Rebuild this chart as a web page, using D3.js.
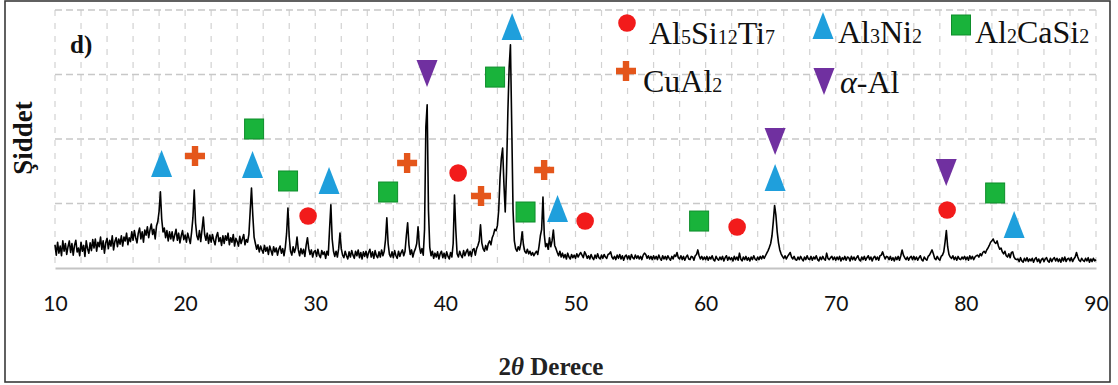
<!DOCTYPE html>
<html><head><meta charset="utf-8">
<script src="https://cdn.jsdelivr.net/npm/d3@7"></script>
<style>body{margin:0;background:#fff}svg{display:block}</style>
</head><body>
<svg id="chart" width="1118" height="385"></svg>
<script>
// ---- scan (2θ from 10° to 90°, 0.1° step) ----
const scanStart = 10;
const scanStep = 0.1;
const intensity = [
 360,200,400,230,340,190,420,260,380,210, // 10
 330,420,240,380,200,350,430,250,310,190, // 11
 400,260,350,180,420,300,230,390,270,440, // 12
 310,450,260,400,330,480,290,420,230,390, // 13
 460,300,430,340,500,280,410,470,330,450, // 14
 370,500,340,480,420,540,360,470,410,560, // 15
 430,580,470,390,540,620,450,560,400,590, // 16
 510,640,470,590,680,520,600,450,650,720, // 17
 880,1180,760,560,620,470,580,420,560,450, // 18
 560,420,510,600,430,540,390,500,580,440, // 19
 510,400,540,460,380,560,780,1210,700,500, // 20
 440,580,410,600,790,520,430,540,380,510, // 21
 400,520,430,360,490,550,410,470,350,500, // 22
 380,500,430,540,360,470,400,520,340,460, // 23
 410,340,490,380,450,520,360,440,400,520, // 24
 880,1240,820,480,380,290,360,250,340,280, // 25
 230,350,260,320,210,340,270,200,330,250, // 26
 310,200,290,340,230,300,190,320,540,930, // 27
 480,260,200,330,240,310,480,280,190,300, // 28
 220,290,180,350,470,300,210,280,170,250, // 29
 270,180,290,200,160,270,210,250,150,260, // 30
 200,600,980,450,260,180,260,170,300,540, // 31
 300,200,160,260,190,140,250,170,270,200, // 32
 150,260,190,280,160,240,140,250,180,260, // 33
 160,240,290,170,250,150,270,190,160,250, // 34
 170,280,190,260,440,780,380,210,170,250, // 35
 160,270,190,150,260,180,240,280,190,260, // 36
 500,700,360,210,280,170,250,300,380,640, // 37
 340,230,300,200,600,2190,2530,900,320,190, // 38
 260,150,230,170,250,140,220,260,160,230, // 39
 150,250,180,140,240,170,380,1130,600,220, // 40
 170,260,200,160,270,190,250,290,190,260, // 41
 180,280,300,200,300,350,420,670,390,300, // 42
 260,350,280,380,420,360,470,520,600,580, // 43
 660,900,1400,1700,1860,1300,870,1500,2400,3100, // 44
 3460,2200,900,420,300,260,330,280,380,560, // 45
 360,260,230,290,220,260,200,240,190,230, // 46
 260,210,340,500,600,1100,520,330,380,290, // 47
 470,330,420,590,350,300,240,190,260,170, // 48
 230,160,210,140,230,170,140,210,160,200, // 49
 150,220,170,210,240,200,160,250,210,150, // 50
 190,140,210,160,130,200,150,220,160,140, // 51
 200,150,210,170,150,210,220,250,170,140, // 52
 180,130,200,150,210,140,190,120,180,200, // 53
 140,190,130,210,160,140,200,150,190,140, // 54
 180,130,200,230,210,150,190,140,180,130, // 55
 190,140,180,130,200,150,120,190,140,180, // 56
 130,190,150,120,180,140,200,180,240,160, // 57
 140,190,130,180,120,170,200,140,130,180, // 58
 170,120,190,210,280,190,140,180,130,170, // 59
 130,180,120,170,140,190,130,110,180,140, // 60
 120,170,130,180,110,160,190,120,170,130, // 61
 160,110,180,130,170,120,230,140,110,170, // 62
 130,180,120,160,110,170,130,190,140,120, // 63
 170,130,180,140,190,150,190,230,270,320, // 64
 380,500,720,970,820,560,390,280,220,180, // 65
 150,190,140,180,210,240,170,140,180,130, // 66
 120,170,130,180,140,110,170,130,190,140, // 67
 130,180,120,170,140,190,130,110,170,130, // 68
 180,140,120,230,150,130,160,180,130,170, // 69
 120,170,130,180,110,160,130,180,120,170, // 70
 160,110,180,130,170,120,160,190,130,110, // 71
 170,130,180,120,160,190,130,170,110,160, // 72
 180,130,170,120,190,200,250,190,140,180, // 73
 170,130,180,120,160,110,170,130,180,120, // 74
 190,280,200,160,130,170,120,160,180,130, // 75
 180,130,170,120,160,190,130,110,170,140, // 76
 120,180,200,240,280,220,150,130,180,140, // 77
 120,180,200,250,400,580,330,210,170,150, // 78
 190,130,170,120,180,140,130,170,140,180, // 79
 130,170,120,190,140,180,130,170,190,200, // 80
 170,220,190,240,260,230,280,310,350,400, // 81
 420,450,400,380,420,340,290,310,250,220, // 82
 260,190,170,220,160,240,250,170,140,130, // 83
 140,100,160,110,90,150,110,160,100,140,  // 84
 110,150,90,140,160,100,140,80,130,150,   // 85
 100,140,160,110,90,150,100,140,160,110,  // 86
 150,100,140,90,160,110,170,100,140,150,  // 87
 110,160,100,140,170,240,170,120,100,150, // 88
 120,100,150,110,160,90,140,100,150,110,  // 89
 130                                       // 90
];

// ---- axis ----
const xTickValues = [10, 20, 30, 40, 50, 60, 70, 80, 90];
const yGridValues = [1000, 2000, 3000, 4000];

// ---- phase marker positions [2θ, intensity level of marker] ----
const al5si12ti7Marks = [[29.45, 806], [40.98, 1473], [50.74, 728], [62.42, 636], [78.56, 899]];
const cual2Marks      = [[20.76, 1736], [37.06, 1628], [42.74, 1116], [47.59, 1519]];
const al3ni2Marks     = [[18.19, 1612], [25.18, 1597], [31.06, 1349], [45.13, 3736], [48.62, 915], [65.34, 1395], [83.71, 667]];
const al2casi2Marks   = [[25.30, 2155], [27.91, 1349], [35.60, 1178], [43.82, 2960], [46.16, 868], [59.50, 728], [82.25, 1163]];
const alphaAlMarks    = [[38.59, 3023], [65.34, 1969], [78.49, 1488]];

// legend labels: alternating normal / subscript segments
const legendLabels = {
  al5si12ti7: ["Al", "5", "Si", "12", "Ti", "7"],
  al3ni2: ["Al", "3", "Ni", "2"],
  al2casi2: ["Al", "2", "CaSi", "2"],
  cual2: ["CuAl", "2"],
};

const C = { red: "#f21b1b", orange: "#e4561b", blue: "#1f9fdc", green: "#19b33b", greenEdge: "#0e8d2b", purple: "#7030a0" };

const svg = d3.select("#chart");
const x = d3.scaleLinear().domain([10, 90]).range([55, 1096]);
const y = d3.scaleLinear().domain([0, 4000]).range([268, 10]);

// outer frame
svg.append("rect").attr("x", 5).attr("y", 1).attr("width", 1105).attr("height", 381)
  .attr("fill", "#fff").attr("stroke", "#3a3a3a").attr("stroke-width", 1.6);

// grid
const minorX = d3.range(10, 91, 2);
svg.append("g").selectAll("line").data(minorX).join("line")
  .attr("x1", d => x(d)).attr("x2", d => x(d)).attr("y1", y(4000)).attr("y2", y(0))
  .attr("stroke", "#d2d2d2").attr("stroke-width", 1.2).attr("stroke-dasharray", "6,7");
svg.append("g").selectAll("line").data(yGridValues).join("line")
  .attr("x1", x(10)).attr("x2", x(90)).attr("y1", d => y(d)).attr("y2", d => y(d))
  .attr("stroke", "#c8c8c8").attr("stroke-width", 1.6).attr("stroke-dasharray", "7,4");

// x axis
const xAxis = svg.append("g").attr("transform", `translate(0,${y(0)})`)
  .call(d3.axisBottom(x).tickValues(xTickValues).tickSize(0).tickPadding(28).tickFormat(d3.format("d")));
xAxis.select(".domain").attr("stroke", "#c4c4c4").attr("stroke-width", 2);
xAxis.selectAll("text").attr("font-family", "Lato, 'Open Sans', sans-serif").attr("font-size", 21).attr("fill", "#111");

// scan line
const pts = intensity.map((v, i) => [scanStart + i * scanStep, v]);
svg.append("path").datum(pts)
  .attr("fill", "none").attr("stroke", "#000").attr("stroke-width", 1.6).attr("stroke-linejoin", "round")
  .attr("d", d3.line().x(d => x(d[0])).y(d => y(d[1])));

// marker painters
function triUp(g, cx, cy) {
  g.append("path").attr("d", `M${cx},${cy - 14}L${cx + 10.5},${cy + 13}L${cx - 10.5},${cy + 13}Z`).attr("fill", C.blue);
}
function triDown(g, cx, cy) {
  g.append("path").attr("d", `M${cx - 10.5},${cy - 13}L${cx + 10.5},${cy - 13}L${cx},${cy + 14}Z`).attr("fill", C.purple);
}
function square(g, cx, cy) {
  g.append("rect").attr("x", cx - 9.5).attr("y", cy - 10).attr("width", 19).attr("height", 20)
    .attr("fill", C.green).attr("stroke", C.greenEdge).attr("stroke-width", 1);
}
function circle(g, cx, cy) {
  g.append("circle").attr("cx", cx).attr("cy", cy).attr("r", 8.8).attr("fill", C.red);
}
function plus(g, cx, cy) {
  const a = 10, t = 3.2;
  g.append("path").attr("d",
    `M${cx - t},${cy - a}H${cx + t}V${cy - t}H${cx + a}V${cy + t}H${cx + t}V${cy + a}H${cx - t}V${cy + t}H${cx - a}V${cy - t}H${cx - t}Z`)
    .attr("fill", C.orange);
}

const mk = svg.append("g");
al5si12ti7Marks.forEach(d => circle(mk, x(d[0]), y(d[1])));
cual2Marks.forEach(d => plus(mk, x(d[0]), y(d[1])));
al3ni2Marks.forEach(d => triUp(mk, x(d[0]), y(d[1])));
al2casi2Marks.forEach(d => square(mk, x(d[0]), y(d[1])));
alphaAlMarks.forEach(d => triDown(mk, x(d[0]), y(d[1])));

// legend
const lg = svg.append("g").attr("font-family", "'Liberation Serif', 'Times New Roman', serif").attr("fill", "#111");
function subText(px, py, segs) {
  const t = lg.append("text").attr("x", px).attr("y", py).attr("font-size", 32);
  segs.forEach((s, i) => {
    t.append("tspan").text(s).attr("font-size", i % 2 ? 20 : 32);
  });
}
circle(lg, 627, 23); subText(649, 44, legendLabels.al5si12ti7);
triUp(lg, 823, 26); subText(838, 43, legendLabels.al3ni2);
square(lg, 961, 25); subText(975, 43, legendLabels.al2casi2);
plus(lg, 626, 71); subText(643, 92, legendLabels.cual2);
triDown(lg, 824, 81);
const aa = lg.append("text").attr("x", 840).attr("y", 93).attr("font-size", 32);
aa.append("tspan").attr("font-style", "italic").text("α");
aa.append("tspan").text("-Al");

// panel label
svg.append("text").attr("x", 70).attr("y", 53).attr("font-family", "'Liberation Serif', serif")
  .attr("font-weight", "bold").attr("font-size", 25).attr("fill", "#111").text("d)");

// y title
svg.append("text").attr("transform", "translate(32,138) rotate(-90)").attr("text-anchor", "middle")
  .attr("font-family", "'Liberation Serif', serif").attr("font-weight", "bold").attr("font-size", 27)
  .attr("fill", "#111").text("Şiddet");

// x title
const xt = svg.append("text").attr("x", 551).attr("y", 375).attr("text-anchor", "middle")
  .attr("font-family", "'Liberation Serif', serif").attr("font-weight", "bold").attr("font-size", 25).attr("fill", "#222");
xt.append("tspan").text("2");
xt.append("tspan").attr("font-style", "italic").text("θ");
xt.append("tspan").text(" Derece");
</script>
</body></html>
